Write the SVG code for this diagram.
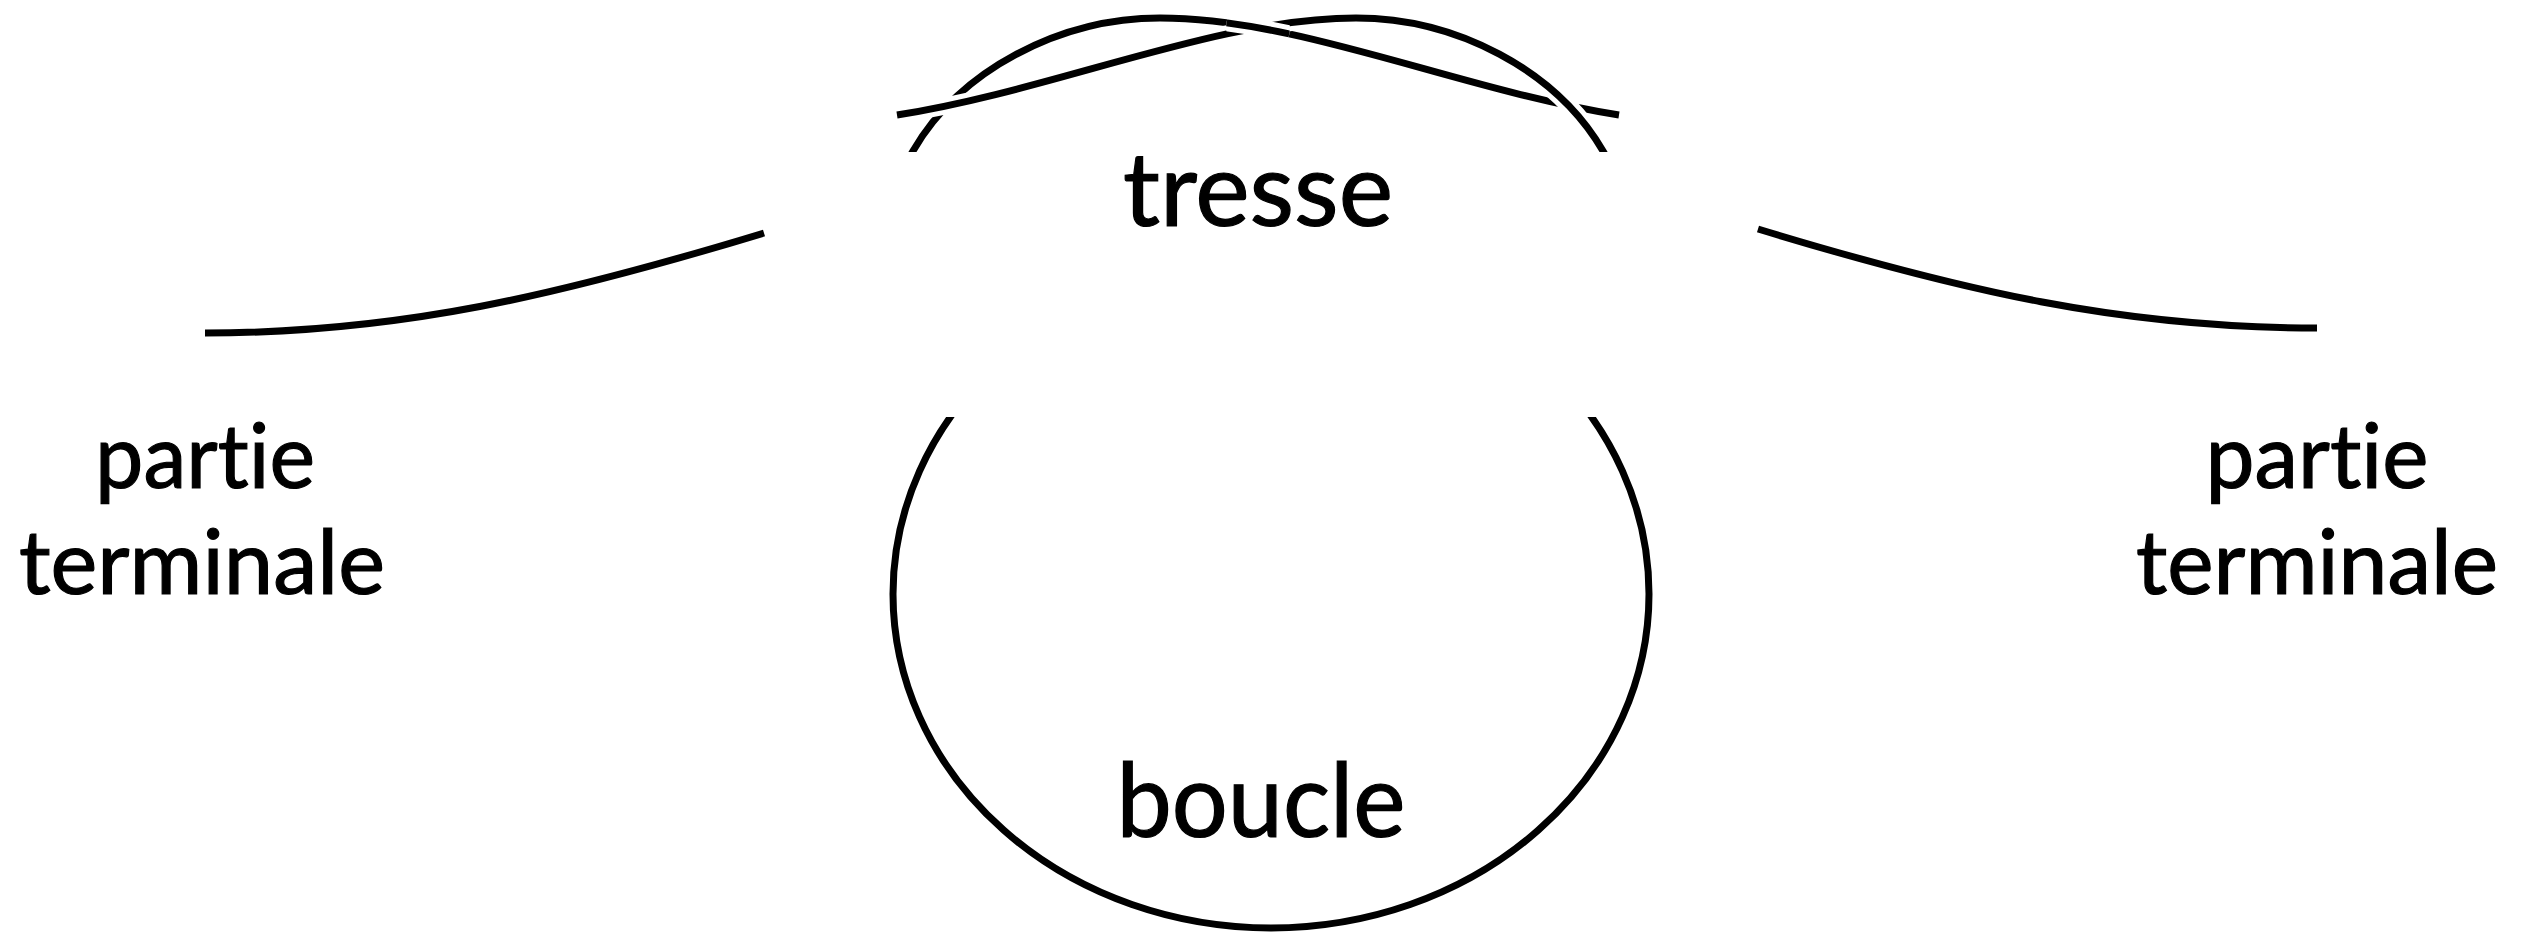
<svg xmlns="http://www.w3.org/2000/svg" xmlns:xlink="http://www.w3.org/1999/xlink" width="2534" height="933" viewBox="0 0 2534 933">
<style>
.ink{fill:none;stroke:#000;stroke-width:7}
.halo{fill:none;stroke:#fff;stroke-width:17}
.lbl{font-family:Lato,"Open Sans","Liberation Sans",sans-serif;fill:#000;stroke:#000;stroke-width:1.2;text-anchor:middle;font-variant-ligatures:none;font-feature-settings:"liga" 0,"clig" 0}
.big{font-size:102px}
.mid{font-size:90px}
</style>
<defs>
<path id="strandA" d="M908,159.7 L913,151 C960,70 1060,18 1160,18 C1300,18 1460,90 1619,115"/>
<clipPath id="braidClip"><rect x="0" y="0" width="2534" height="152"/></clipPath>
<clipPath id="topCross"><circle cx="1258" cy="28" r="32"/></clipPath>
<clipPath id="loopClip"><rect x="0" y="417" width="2534" height="520"/></clipPath>
</defs>
<rect width="2534" height="933" fill="#fff"/>
<g id="tresse">
<g clip-path="url(#braidClip)">
<use xlink:href="#strandA" class="ink"/>
<use xlink:href="#strandA" class="halo" transform="translate(2516,0) scale(-1,1)"/>
<use xlink:href="#strandA" class="ink" transform="translate(2516,0) scale(-1,1)"/>
<g clip-path="url(#topCross)">
<use xlink:href="#strandA" class="halo"/>
<use xlink:href="#strandA" class="ink"/>
</g>
</g>
<text class="lbl big" x="1258" y="226" textLength="270" lengthAdjust="spacingAndGlyphs">tresse</text>
</g>
<g id="boucle">
<ellipse class="ink" cx="1271" cy="594" rx="378" ry="334" clip-path="url(#loopClip)"/>
<text class="lbl big" x="1261" y="837" textLength="289" lengthAdjust="spacingAndGlyphs">boucle</text>
</g>
<g id="partie-gauche">
<path class="ink" d="M205,333 C400,333 560,295 764,233"/>
<text class="lbl mid" x="205" y="488" textLength="220" lengthAdjust="spacingAndGlyphs">partie</text>
<text class="lbl mid" x="202" y="594" textLength="366" lengthAdjust="spacingAndGlyphs">terminale</text>
</g>
<g id="partie-droite">
<path class="ink" d="M1758,229 C1962,291 2122,328 2317,328"/>
<text class="lbl mid" x="2317" y="488" textLength="223" lengthAdjust="spacingAndGlyphs">partie</text>
<text class="lbl mid" x="2317" y="594" textLength="362" lengthAdjust="spacingAndGlyphs">terminale</text>
</g>
</svg>
